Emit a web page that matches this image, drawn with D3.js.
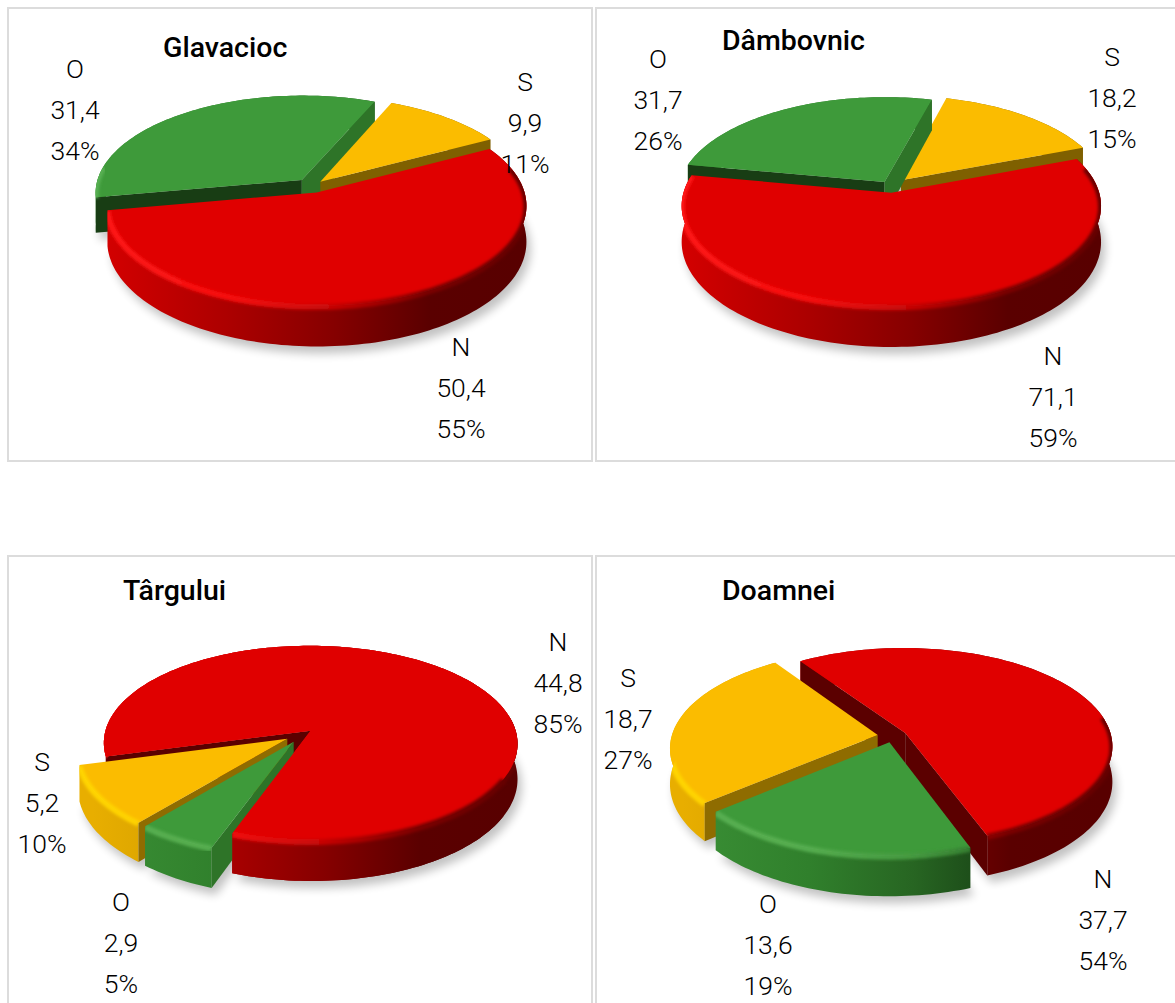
<!DOCTYPE html>
<html>
<head>
<meta charset="utf-8">
<script src="https://cdn.jsdelivr.net/npm/d3@7"></script>
<style>
  html, body { margin: 0; padding: 0; background: #fff; overflow: hidden; }
  text { font-family: Roboto, sans-serif; fill: #000; }
  .label { font-size: 26.5px; font-weight: 300; text-anchor: middle; }
  .title { font-size: 28.5px; font-weight: 500; dominant-baseline: middle; }
</style>
</head>
<body>
<svg id="chart" width="1175" height="1003"></svg>
<script>
var width = 1175,
  height = 1003,
  categories = ["N", "O", "S"],
  seriesColors = ["#E00000", "#3E9A3A", "#FBBC00"],
  glavaciocValues = [50.4, 31.4, 9.9],
  dambovnicValues = [71.1, 31.7, 18.2],
  targuluiValues = [44.8, 2.9, 5.2],
  doamneiValues = [37.7, 13.6, 18.7];

// wall colours by series: lit cut face, shaded cut face, stops along the rim
var cutLight = {N: "#5b0000", O: "#2e7428", S: "#8f6c00"},
  cutDark = {N: "#5b0000", O: "#183d14", S: "#7f6000"},
  wallStops = {
    N: ["#d40000", "#ac0000", "#860000", "#5a0000", "#580000"],
    O: ["#3a8f35", "#30802c", "#276522", "#173f14", "#153a12"],
    S: ["#e8ae00", "#cf9c00", "#a88000", "#7f6000", "#7f6000"]
  },
  rimStops = {
    N: ["#ff1414", "#f81010", "#c80606", "#7a0000", "#660000"],
    O: ["#58b052", "#55ad4f", "#459a40", "#2a6c26", "#225c1f"],
    S: ["#ffd400", "#ffcf00", "#e0ac00", "#a88000", "#907000"]
  },
  stopOffsets = [0, 0.3, 0.55, 0.78, 1];

// panel geometry and pie placement; explode is a share of the radius,
// raise lists slices whose front goes over the others at the end
var charts = [
  {name: "Glavacioc", values: glavaciocValues, panel: [8, 8, 584, 453], title: [163, 49],
    center: [312, 186], start: 62, explode: [0.07, 0.08, 0.06], raise: [],
    labels: [[461, 347], [75, 69], [525, 82]]},
  {name: "Dâmbovnic", values: dambovnicValues, panel: [596, 8, 590, 453], title: [722, 42],
    center: [890, 186], start: 69, explode: [0.07, 0.05, 0.08], raise: [],
    labels: [[1053, 356], [658, 59], [1112, 57]]},
  {name: "Târgului", values: targuluiValues, panel: [8, 556, 584, 460], title: [123, 592],
    center: [303, 734], start: 255, explode: [0.05, 0.09, 0.09], raise: [0],
    labels: [[558, 642], [121, 902], [42, 762]]},
  {name: "Doamnei", values: doamneiValues, panel: [596, 556, 590, 460], title: [722, 592],
    center: [893, 736], start: 326, explode: [0.067, 0.067, 0.075], raise: [],
    labels: [[1103, 879], [768, 904], [628, 678]]}
];

var radius = 206,
  squash = 0.47,
  persp = 0.13,
  depth = 35,
  lineGap = 41;

var svg = d3.select("#chart"),
  defs = svg.append("defs"),
  color = d3.scaleOrdinal().domain(categories).range(seriesColors),
  decimal = d3.formatLocale({decimal: ",", thousands: ".", grouping: [3], currency: ["", ""]}).format(".1f"),
  percent = d3.format(".0%"),
  pathLine = d3.line();

defs.append("filter").attr("id", "shadowBlur")
  .attr("x", "-20%").attr("y", "-20%").attr("width", "140%").attr("height", "140%")
  .append("feGaussianBlur").attr("stdDeviation", 5);
defs.append("filter").attr("id", "rimBlur")
  .attr("x", "-10%").attr("y", "-10%").attr("width", "120%").attr("height", "120%")
  .append("feGaussianBlur").attr("stdDeviation", 1.6);

svg.append("rect").attr("width", width).attr("height", height).attr("fill", "#fff");

charts.forEach(function(chart, chartIndex) {
  var cx = chart.center[0], cy = chart.center[1];

  // points live on a unit disc, v grows toward the viewer
  function project(u, v, h) {
    var w = 1 - persp * v;
    return [cx + radius * u / w, cy + (radius * squash * v + h) / w];
  }

  var total = d3.sum(chart.values),
    startRad = chart.start * Math.PI / 180,
    pie = d3.pie().sort(null).startAngle(startRad).endAngle(startRad + 2 * Math.PI);

  var slices = pie(chart.values).map(function(d, i) {
    var mid = (d.startAngle + d.endAngle) / 2,
      e = chart.explode[i];
    d.key = categories[i];
    d.du = e * Math.sin(mid);
    d.dv = -e * Math.cos(mid);
    return d;
  });

  function rim(d, h) {
    var steps = Math.max(8, Math.ceil((d.endAngle - d.startAngle) * 40));
    return d3.range(steps + 1).map(function(k) {
      var a = d.startAngle + (d.endAngle - d.startAngle) * k / steps;
      return project(d.du + Math.sin(a), d.dv - Math.cos(a), h);
    });
  }
  function apex(d, h) { return project(d.du, d.dv, h); }
  function corner(d, a, h) { return project(d.du + Math.sin(a), d.dv - Math.cos(a), h); }

  var g = svg.append("g").attr("class", "pie-chart");

  g.append("rect")
    .attr("x", chart.panel[0]).attr("y", chart.panel[1])
    .attr("width", chart.panel[2]).attr("height", chart.panel[3])
    .attr("fill", "#fff").attr("stroke", "#dcdcdc").attr("stroke-width", 2);

  // one gradient per series, spread over the whole pie width
  categories.forEach(function(key) {
    [["wall", wallStops], ["rim", rimStops]].forEach(function(kind) {
      var grad = defs.append("linearGradient")
        .attr("id", kind[0] + chartIndex + key)
        .attr("gradientUnits", "userSpaceOnUse")
        .attr("x1", cx - radius * 1.02).attr("x2", cx + radius * 1.02)
        .attr("y1", 0).attr("y2", 0);
      grad.selectAll("stop").data(kind[1][key]).enter().append("stop")
        .attr("offset", function(c, i) { return stopOffsets[i]; })
        .attr("stop-color", function(c) { return c; });
    });
  });

  g.append("g").attr("filter", "url(#shadowBlur)").attr("opacity", 0.24)
    .attr("transform", "translate(4,7)")
    .selectAll("path").data(slices).enter().append("path")
    .attr("fill", "#000")
    .attr("d", function(d) { return pathLine([apex(d, depth)].concat(rim(d, depth))) + "Z"; });

  function drawWall(sg, d, fromY) {
    var top = rim(d, 0), lower = rim(d, depth),
      keep = d3.range(top.length).filter(function(k) { return top[k][1] > cy + fromY; }),
      upperEdge = keep.map(function(k) { return top[k]; }),
      lowerEdge = keep.map(function(k) { return lower[k]; }).reverse();
    sg.append("path")
      .attr("fill", "url(#wall" + chartIndex + d.key + ")")
      .attr("d", pathLine(upperEdge.concat(lowerEdge)) + "Z");
  }

  // only the cut faces turned toward the viewer get drawn
  function drawCuts(sg, d) {
    [[d.startAngle, -1], [d.endAngle, 1]].forEach(function(cut) {
      var a = cut[0],
        normal = a + cut[1] * Math.PI / 2,
        lit = Math.sin(normal) > 0.6;
      if (Math.cos(normal) >= 0) return;
      sg.append("path")
        .attr("fill", lit ? cutLight[d.key] : cutDark[d.key])
        .attr("d", pathLine([apex(d, 0), corner(d, a, 0), corner(d, a, depth), apex(d, depth)]) + "Z");
    });
  }

  function drawTop(sg, d, rimFrom) {
    var top = rim(d, 0),
      wallPath = pathLine(top.concat(rim(d, depth).reverse())) + "Z",
      topPath = pathLine([apex(d, 0)].concat(top)) + "Z";

    sg.append("path")
      .attr("fill", color(d.key))
      .attr("d", topPath);

    // soft bevel where the top meets the wall, kept inside the slice outline
    var clipId = "sliceClip" + chartIndex + d.key;
    if (defs.select("#" + clipId).empty()) {
      var clip = defs.append("clipPath").attr("id", clipId);
      clip.append("path").attr("d", wallPath);
      clip.append("path").attr("d", topPath);
    }

    var rimLine = d3.line()
      .defined(function(p) { return p[1] > cy + rimFrom; })
      .x(function(p) { return p[0]; })
      .y(function(p) { return p[1] + 1; });

    sg.append("g").attr("clip-path", "url(#" + clipId + ")")
      .append("path")
      .attr("fill", "none")
      .attr("stroke", "url(#rim" + chartIndex + d.key + ")")
      .attr("stroke-width", 6)
      .attr("filter", "url(#rimBlur)")
      .attr("d", rimLine(top));
  }

  // back slices first
  var ordered = slices.slice().sort(function(a, b) { return a.dv - b.dv; });

  ordered.forEach(function(d) {
    var sg = g.append("g").attr("class", "slice slice-" + d.key);
    drawWall(sg, d, -1000);
    drawCuts(sg, d);
    drawTop(sg, d, -20);
  });

  // second pass stays off the rim behind the exploded pieces
  chart.raise.forEach(function(i) {
    var sg = g.append("g").attr("class", "slice slice-" + slices[i].key);
    drawWall(sg, slices[i], 45);
    drawTop(sg, slices[i], 45);
  });

  g.append("text").attr("class", "title")
    .attr("x", chart.title[0]).attr("y", chart.title[1])
    .text(chart.name);

  slices.forEach(function(d, i) {
    var lines = [d.key, decimal(d.value), percent(d.value / total)];
    g.selectAll(".label-" + d.key).data(lines).enter().append("text")
      .attr("class", "label label-" + d.key)
      .attr("x", chart.labels[i][0])
      .attr("y", function(t, k) { return chart.labels[i][1] + k * lineGap; })
      .attr("dy", "0.33em")
      .text(function(t) { return t; });
  });
});
</script>
</body>
</html>
